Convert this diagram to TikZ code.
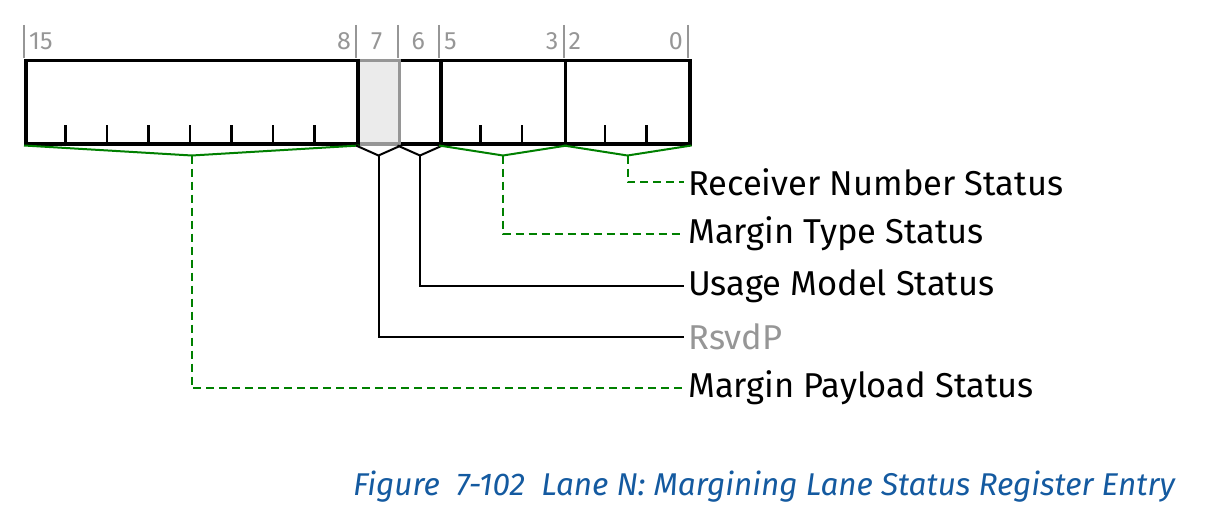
\documentclass[tikz,border=0pt]{standalone}
\usepackage{fontspec}
\setmainfont{Fira Sans}
\usetikzlibrary{calc}
\definecolor{fgreen}{RGB}{0,128,0}
\definecolor{fgray}{RGB}{150,150,150}
\definecolor{lgray}{RGB}{235,235,235}
\definecolor{capblue}{RGB}{20,90,160}
\begin{document}
\begin{tikzpicture}[x=1pt,y=-1pt,
  field/.style={draw=black,line width=3.5pt,inner sep=0pt,minimum height=83pt,anchor=north west},
  rsvfield/.style={draw=fgray,fill=lgray,line width=3.5pt,inner sep=0pt,minimum height=83pt,anchor=north west},
  bitline/.style={draw=fgray,line width=2pt},
  bitnum/.style={text=fgray,font=\fontsize{25}{30}\selectfont,inner sep=2pt},
  tick/.style={line width=2.2pt},
  gbrace/.style={draw=fgreen,line width=2pt},
  kbrace/.style={draw=black,line width=2pt},
  gleader/.style={draw=fgreen,line width=2pt,dashed,dash pattern=on 8pt off 5pt},
  kleader/.style={draw=black,line width=2pt},
  lbl/.style={anchor=west,inner sep=4pt,font=\fontsize{34.5}{40}\selectfont},
]
\useasboundingbox (0,0) rectangle (1209,516);
% fields
\node[field,minimum width=41.5pt] (f6) at (397.5,59) {};
\node[rsvfield,minimum width=41.5pt] (f7) at (356,59) {};
\node[field,minimum width=332pt] (f15) at (24,59) {};
\node[field,minimum width=124.5pt] (f5) at (439,59) {};
\node[field,minimum width=124.5pt] (f2) at (563.5,59) {};
% bit ticks above
\foreach \x in {24,356,397.5,439,563.5,688}
  \draw[bitline] (\x,25) -- (\x,58);
\node[bitnum,anchor=base west] (n15) at (27,50) {15};
\node[bitnum,anchor=base east] (n8) at (353,50) {8};
\node[bitnum,anchor=base] (n7) at (376.75,50) {7};
\node[bitnum,anchor=base] (n6) at (418.25,50) {6};
\node[bitnum,anchor=base west] (n5) at (442,50) {5};
\node[bitnum,anchor=base east] (n3) at (560.5,50) {3};
\node[bitnum,anchor=base west] (n2) at (566.5,50) {2};
\node[bitnum,anchor=base east] (n0) at (685,50) {0};
% inner ticks
\foreach \k in {1,...,7}
  \draw[tick] ($(f15.south west)+(41.5*\k,0)$) -- ++(0,-20);
\foreach \k in {1,2}{
  \draw[tick] ($(f5.south west)+(41.5*\k,0)$) -- ++(0,-20);
  \draw[tick] ($(f2.south west)+(41.5*\k,0)$) -- ++(0,-20);
}
% labels
\node[lbl] (l0) at (684,182) {Receiver Number Status};
\node[lbl] (l1) at (684,234) {Margin Type Status};
\node[lbl] (l2) at (684,286) {Usage Model Status};
\node[lbl,text=fgray] (l3) at (684,337) {RsvdP};
\node[lbl] (l4) at (684,388) {Margin Payload Status};
% braces
\coordinate (b15) at ($(f15.south)+(0,10)$);
\coordinate (b7) at ($(f7.south)+(0,10)$);
\coordinate (b6) at ($(f6.south)+(0,10)$);
\coordinate (b5) at ($(f5.south)+(0,10)$);
\coordinate (b2) at ($(f2.south)+(0,10)$);
\draw[gbrace] (f15.south west) -- (b15) -- (f15.south east);
\draw[kbrace] (f7.south west) -- (b7) -- (f7.south east);
\draw[kbrace] (f6.south west) -- (b6) -- (f6.south east);
\draw[gbrace] (f5.south west) -- (b5) -- (f5.south east);
\draw[gbrace] (f2.south west) -- (b2) -- (f2.south east);
% leaders
\draw[gleader] (b2) |- (l0.west);
\draw[gleader] (b5) |- (l1.west);
\draw[kleader] (b6) |- (l2.west);
\draw[kleader] (b7) |- (l3.west);
\draw[gleader] (b15) |- (l4.west);
% caption
\node[anchor=base east,text=capblue,font=\fontsize{31.5}{36}\selectfont\itshape,inner sep=0pt] (cap) at (1175,495) {Figure\ \ 7-102\ \ Lane N: Margining Lane Status Register Entry};
\end{tikzpicture}
\end{document}
